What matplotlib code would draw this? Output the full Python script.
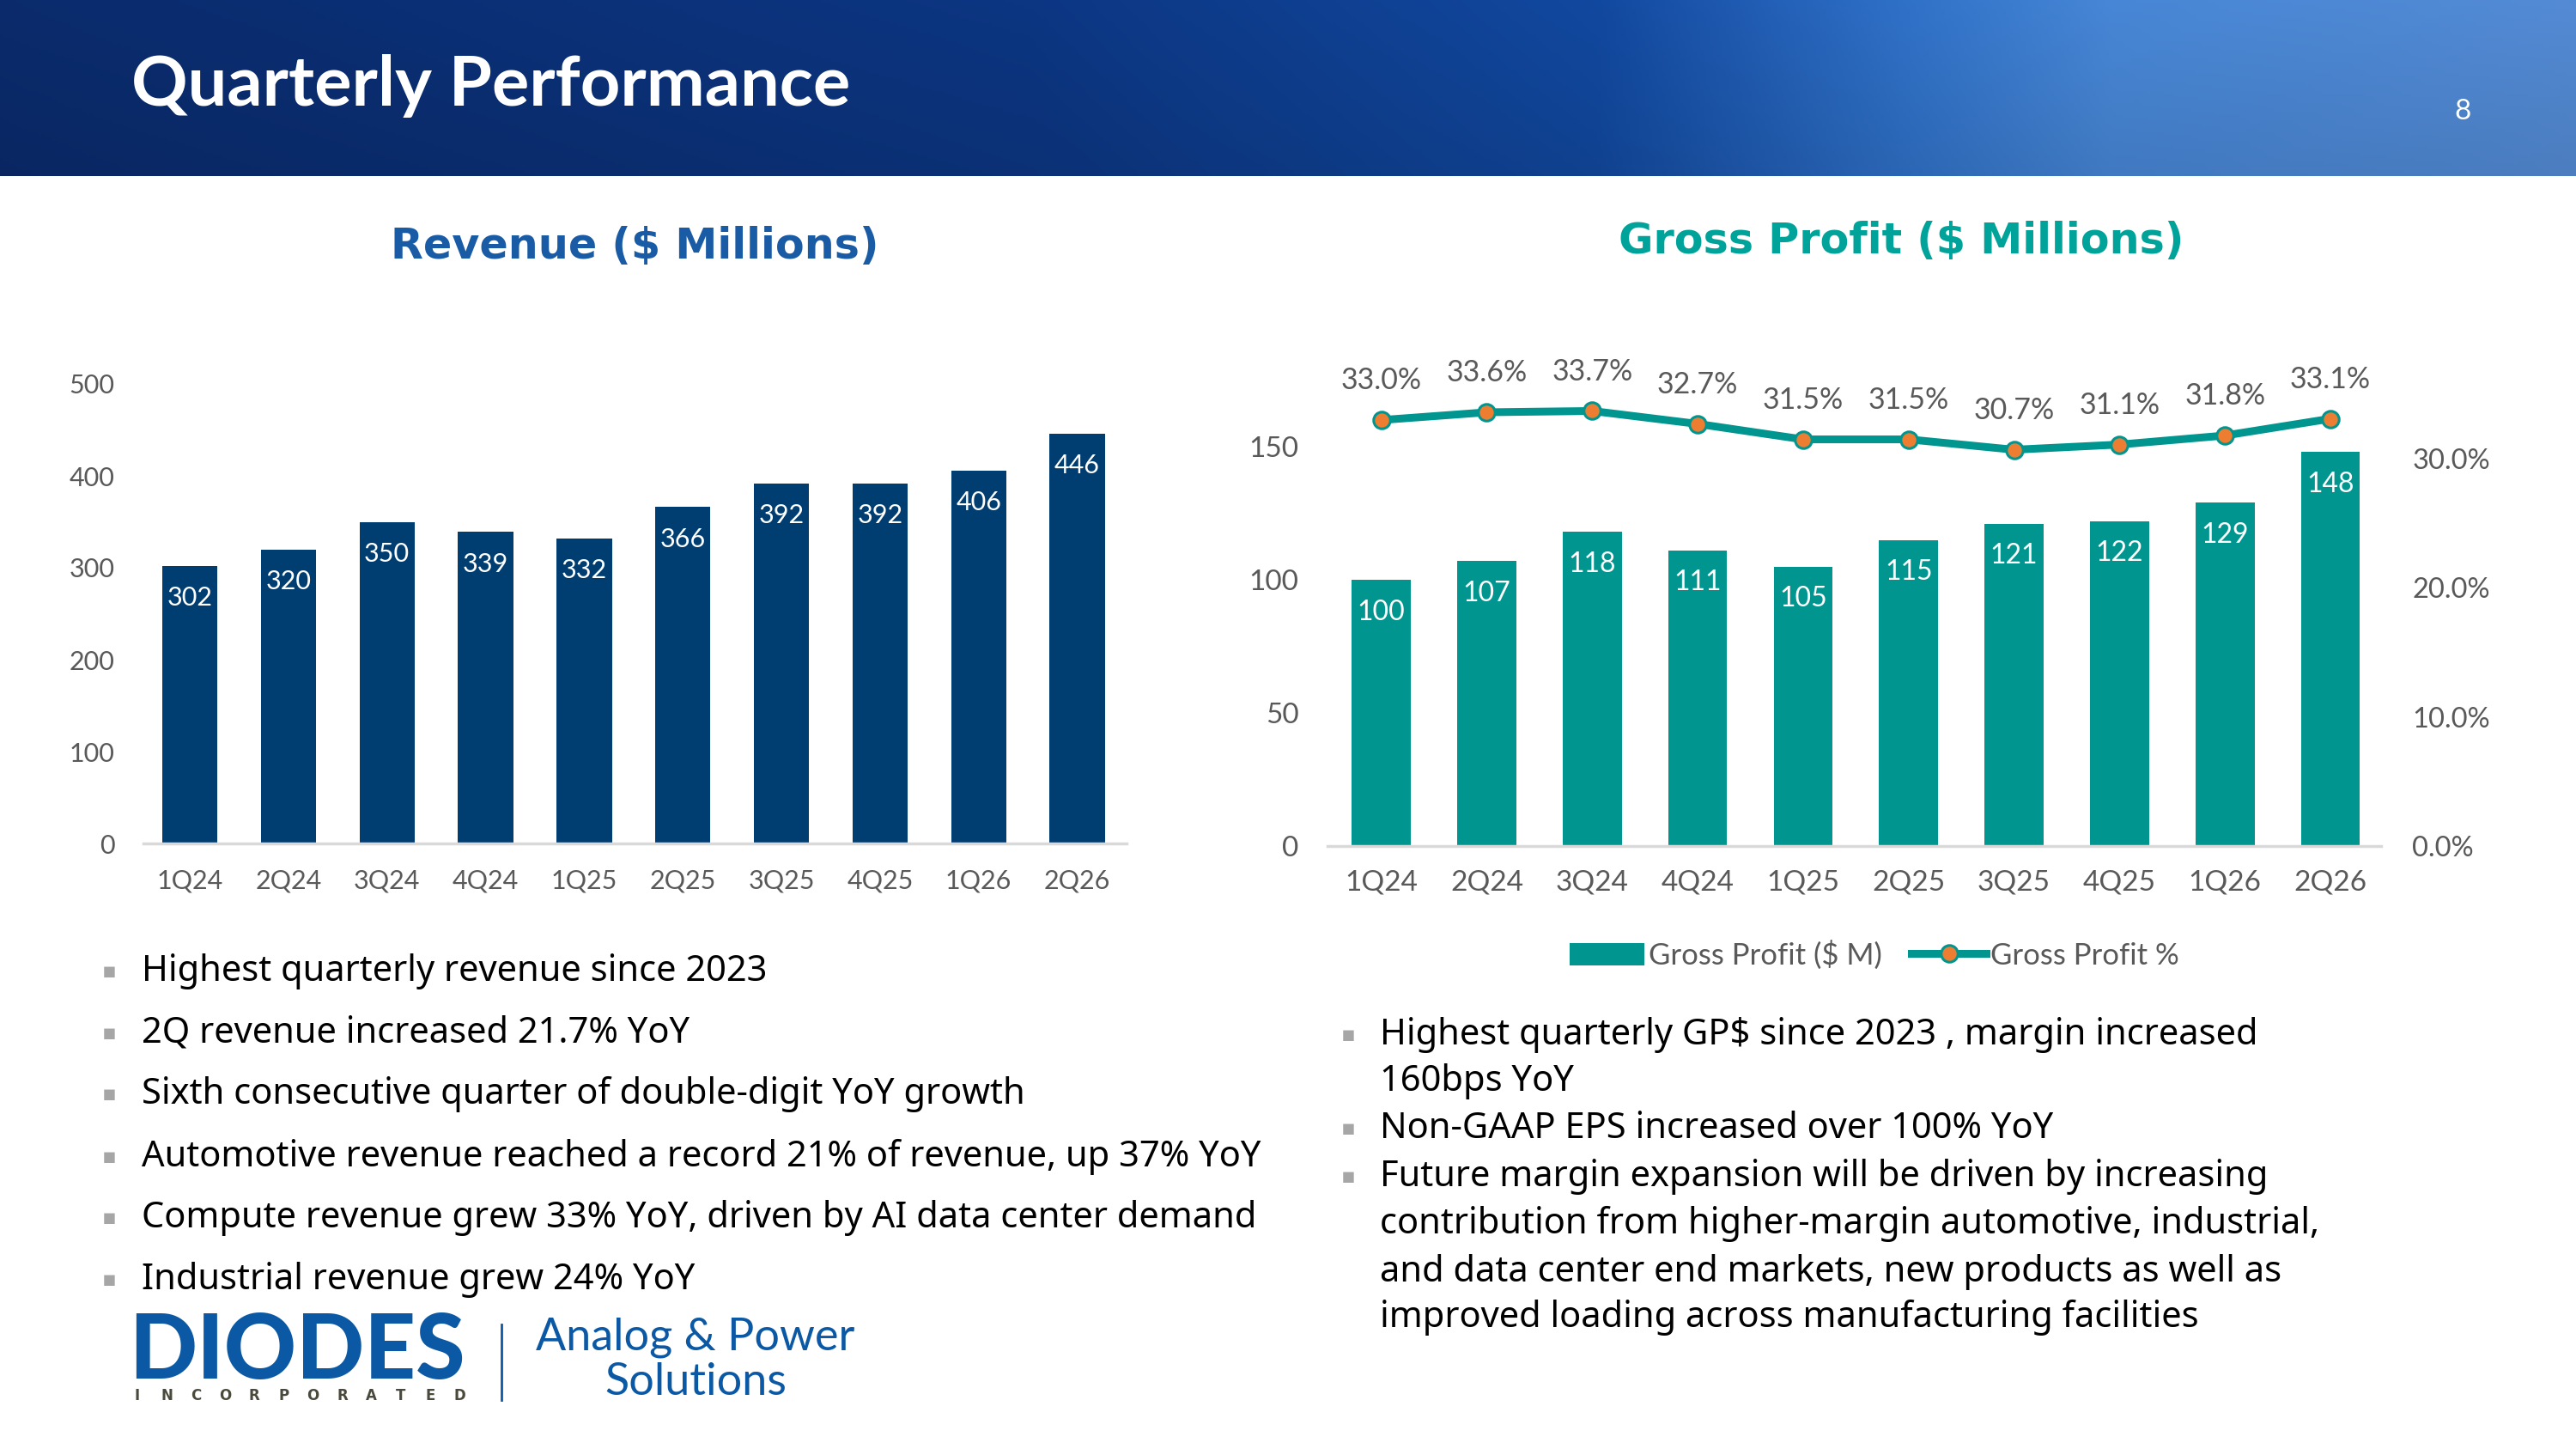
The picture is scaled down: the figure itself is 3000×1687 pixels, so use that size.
import numpy as np
import matplotlib
matplotlib.use("Agg")
import matplotlib.pyplot as plt
from matplotlib.colors import to_rgb
from matplotlib.lines import Line2D
from matplotlib.patches import Patch

# ---------------- data ----------------
quarters = ["1Q24", "2Q24", "3Q24", "4Q24", "1Q25", "2Q25", "3Q25", "4Q25", "1Q26", "2Q26"]
revenue = [302, 320, 350, 339, 332, 366, 392, 392, 406, 446]
gross_profit = [100, 107, 118, 111, 105, 115, 121, 122, 129, 148]
gross_margin_pct = [33.0, 33.6, 33.7, 32.7, 31.5, 31.5, 30.7, 31.1, 31.8, 33.1]
rev_yticks = [0, 100, 200, 300, 400, 500]
gp_yticks = [0, 50, 100, 150]
gm_yticks = [0, 10, 20, 30]

title = "Quarterly Performance"
page_no = "8"
rev_title = "Revenue ($ Millions)"
gp_title = "Gross Profit ($ Millions)"
legend_labels = ["Gross Profit ($ M)", "Gross Profit %"]
left_bullets = [
    "Highest quarterly revenue since 2023",
    "2Q revenue increased 21.7% YoY",
    "Sixth consecutive quarter of double-digit YoY growth",
    "Automotive revenue reached a record 21% of revenue, up 37% YoY",
    "Compute revenue grew 33% YoY, driven by AI data center demand",
    "Industrial revenue grew 24% YoY",
]
right_lines = [
    (True, "Highest quarterly GP$ since 2023 , margin increased"),
    (False, "160bps YoY"),
    (True, "Non-GAAP EPS increased over 100% YoY"),
    (True, "Future margin expansion will be driven by increasing"),
    (False, "contribution from higher-margin automotive, industrial,"),
    (False, "and data center end markets, new products as well as"),
    (False, "improved loading across manufacturing facilities"),
]

# ---------------- styling ----------------
W, H = 3000, 1687
NAVY = "#003D71"
TEAL = "#00968F"
ORANGE = "#ED7D31"
GRAY = "#595959"
TITLE_BLUE = "#1A5BA6"
TITLE_TEAL = "#00A39A"
LOGO_BLUE = "#0B59A5"

def fx(px):
    return px / W

def fy(py):
    return 1 - py / H

fig = plt.figure(figsize=(W / 100, H / 100), dpi=100)
fig.patch.set_facecolor("white")

# ---------------- header band ----------------
hdr_h = 205
hax = fig.add_axes([0, fy(hdr_h), 1, hdr_h / H])
stops = [0.0, 0.40, 0.62, 0.74, 0.82, 1.0]
cols = ["#0A2A6A", "#0C3580", "#11479C", "#2F6FC4", "#4684D2", "#5288D0"]
xs = np.linspace(0, 1, 800)
rgb = np.array([to_rgb(c) for c in cols])
grad = np.stack([np.interp(xs, stops, rgb[:, k]) for k in range(3)], axis=-1)
ys = np.linspace(0, 1, 60)[:, None, None]
img = grad[None, :, :] * (0.92 + 0.10 * ys)
img = np.clip(img, 0, 1)
hax.imshow(img, aspect="auto", extent=[0, 1, 0, 1], origin="lower")
hax.set_xlim(0, 1)
hax.set_ylim(0, 1)
hax.axis("off")

fig.text(fx(153), fy(100), title, color="white", fontsize=58.5, fontweight="bold",
         family="Lato", va="center", ha="left")
fig.text(fx(2868), fy(130), page_no, color="white", fontsize=24, family="Lato",
         va="center", ha="center")

# ---------------- chart titles ----------------
fig.text(fx(739), fy(287), rev_title, color=TITLE_BLUE, fontsize=35.5, fontweight="bold",
         family="DejaVu Sans", ha="center", va="center")
fig.text(fx(2214), fy(281), gp_title, color=TITLE_TEAL, fontsize=35.5, fontweight="bold",
         family="DejaVu Sans", ha="center", va="center")

x = np.arange(len(quarters))

# ---------------- revenue chart ----------------
ax1 = fig.add_axes([fx(167), fy(982), fx(1312 - 167), (982 - 447) / H])
ax1.bar(x, revenue, width=0.56, color=NAVY, zorder=2)
ax1.set_xlim(-0.47, 9.5)
ax1.set_ylim(0, 500)
ax1.set_yticks(rev_yticks)
ax1.set_xticks(x)
ax1.set_xticklabels(quarters)
for s in ["top", "right", "left"]:
    ax1.spines[s].set_visible(False)
ax1.spines["bottom"].set_color("#D9D9D9")
ax1.spines["bottom"].set_linewidth(2.5)
ax1.tick_params(axis="both", length=0, labelcolor=GRAY, labelsize=22)
ax1.tick_params(axis="x", pad=21)
ax1.tick_params(axis="y", pad=24)
for lab in ax1.get_xticklabels() + ax1.get_yticklabels():
    lab.set_family("Lato")
for i, v in enumerate(revenue):
    ax1.annotate(str(v), xy=(i, v), xytext=(0, -27), textcoords="offset points",
                 ha="center", va="center", color="white", fontsize=22, family="Lato")

# ---------------- gross profit chart ----------------
top_px = 410
ax2 = fig.add_axes([fx(1546), fy(985), fx(2773 - 1546), (985 - top_px) / H])
ax2.bar(x, gross_profit, width=0.56, color=TEAL, zorder=2)
ax2.set_xlim(-0.51, 9.48)
ax2.set_ylim(0, (985 - top_px) / 3.1)
ax2.set_yticks(gp_yticks)
ax2.set_xticks(x)
ax2.set_xticklabels(quarters)
for s in ["top", "right", "left"]:
    ax2.spines[s].set_visible(False)
ax2.spines["bottom"].set_color("#D9D9D9")
ax2.spines["bottom"].set_linewidth(2.5)
ax2.tick_params(axis="both", length=0, labelcolor=GRAY, labelsize=24)
ax2.tick_params(axis="x", pad=20)
ax2.tick_params(axis="y", pad=24)
for lab in ax2.get_xticklabels() + ax2.get_yticklabels():
    lab.set_family("Lato")
for i, v in enumerate(gross_profit):
    ax2.annotate(str(v), xy=(i, v), xytext=(0, -27), textcoords="offset points",
                 ha="center", va="center", color="white", fontsize=23, family="Lato")

ax3 = ax2.twinx()
ax3.set_ylim(0, (985 - top_px) / 15.03)
ax3.plot(x, gross_margin_pct, color=TEAL, lw=6.5, marker="o", markersize=14,
         markerfacecolor=ORANGE, markeredgecolor=TEAL, markeredgewidth=2.2,
         solid_joinstyle="round", zorder=3)
ax3.set_yticks(gm_yticks)
ax3.set_yticklabels([f"{t:.1f}%" for t in gm_yticks])
for s in ["top", "right", "left", "bottom"]:
    ax3.spines[s].set_visible(False)
ax3.tick_params(axis="y", length=0, labelcolor=GRAY, labelsize=23.5, pad=26)
for lab in ax3.get_yticklabels():
    lab.set_family("Lato")
for i, v in enumerate(gross_margin_pct):
    ax3.annotate(f"{v:.1f}%", xy=(i, v), xytext=(0, 33), textcoords="offset points",
                 ha="center", va="center", color=GRAY, fontsize=24.5, family="Lato")

handles = [Patch(facecolor=TEAL, edgecolor="none"),
           Line2D([0], [0], color=TEAL, lw=6.5, marker="o", markersize=14,
                  markerfacecolor=ORANGE, markeredgecolor=TEAL, markeredgewidth=2.2)]
leg = fig.legend(handles, legend_labels, loc="center", bbox_to_anchor=(fx(2183), fy(1112)),
                 ncol=2, frameon=False, handlelength=2.5, handleheight=0.8,
                 columnspacing=1.0, handletextpad=0.15,
                 prop={"family": "Lato", "size": 25})
for t in leg.get_texts():
    t.set_color(GRAY)

# ---------------- bullets ----------------
BFONT = "Noto Sans"
left_y = [1131, 1203, 1274, 1347, 1418, 1490]
for yy, txt in zip(left_y, left_bullets):
    fig.text(fx(127), fy(yy), "\u25aa", color="#A6A6A6", fontsize=18, ha="center",
             va="center", family="DejaVu Sans")
    fig.text(fx(165), fy(yy), txt, color="black", fontsize=30, ha="left",
             va="center", family=BFONT)

right_y = [1205, 1259, 1314, 1370, 1425, 1481, 1534]
for yy, (bul, txt) in zip(right_y, right_lines):
    if bul:
        fig.text(fx(1570), fy(yy), "\u25aa", color="#A6A6A6", fontsize=18, ha="center",
                 va="center", family="DejaVu Sans")
    fig.text(fx(1607), fy(yy), txt, color="black", fontsize=30, ha="left",
             va="center", family=BFONT)

# ---------------- logo ----------------
fig.text(fx(150), fy(1574), "DIODES", color=LOGO_BLUE, fontsize=75, fontweight="black",
         family="Lato", ha="left", va="center")
fig.add_artist(Line2D([fx(153), fx(420)], [fy(1572), fy(1572)], color="white", lw=3))
inc = "INCORPORATED"
for k, ch in enumerate(inc):
    fig.text(fx(160 + k * (375 / (len(inc) - 1))), fy(1625), ch, color="#4A4A3C",
             fontsize=12, fontweight="bold", family="DejaVu Sans", ha="center", va="center")
fig.add_artist(Line2D([fx(584), fx(584)], [fy(1542), fy(1630)], color=LOGO_BLUE, lw=2))
fig.text(fx(810), fy(1557), "Analog & Power", color=LOGO_BLUE, fontsize=37.5,
         family="Lato", ha="center", va="center")
fig.text(fx(810), fy(1609), "Solutions", color=LOGO_BLUE, fontsize=37.5,
         family="Lato", ha="center", va="center")

fig.savefig("out.png", dpi=100, facecolor="white")
